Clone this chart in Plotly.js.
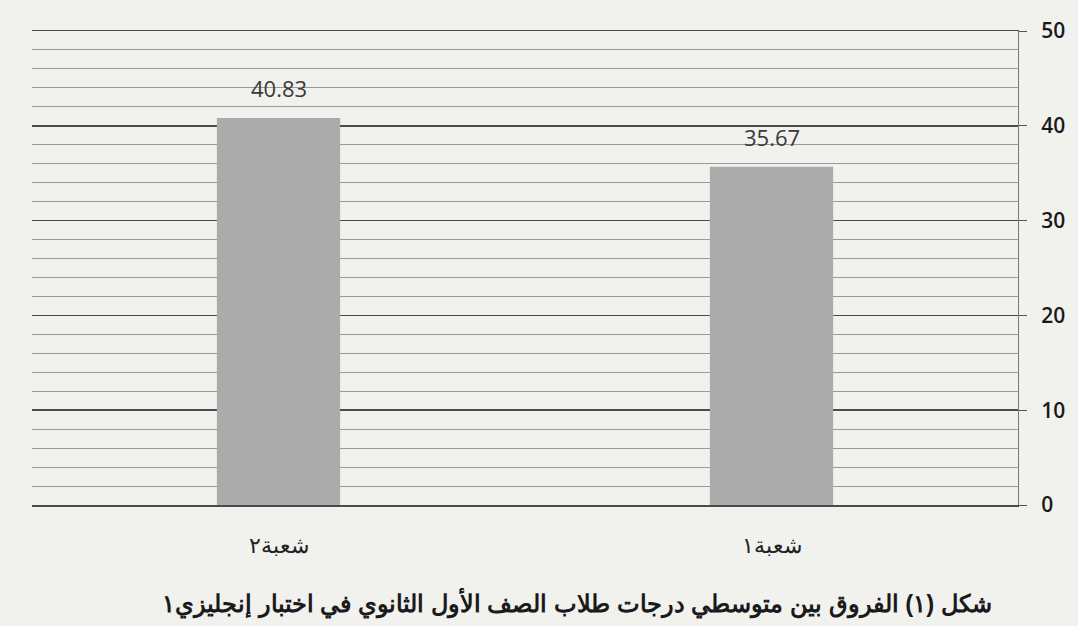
<!DOCTYPE html>
<html>
<head>
<meta charset="utf-8">
<script src="https://cdn.plot.ly/plotly-3.0.1.min.js"></script>
<style>html,body{margin:0;padding:0;background:#f1f1ee;}#chart{width:1078px;height:626px;}</style>
</head>
<body>
<div id="chart"></div>
<script>
const categories = ["شعبة١", "شعبة٢"];
const values = [35.67, 40.83];
const valueLabels = ["35.67", "40.83"];
const yTickVals = [0, 10, 20, 30, 40, 50];
const captionText = "شكل (١) الفروق بين متوسطي درجات طلاب الصف الأول الثانوي في اختبار إنجليزي١";

const trace = {
  type: "bar",
  x: categories,
  y: values,
  marker: {color: "#ababab", line: {width: 0}},
  hoverinfo: "none"
};

const annotations = categories.map((c, i) => ({
  x: c, y: values[i], xref: "x", yref: "y",
  text: valueLabels[i], showarrow: false,
  yanchor: "bottom", yshift: 13,
  font: {family: "Open Sans, Carlito, sans-serif", size: 22, color: "#3a3a3a"}
}));
annotations.push({
  x: 0.553, y: -0.207, xref: "paper", yref: "paper",
  text: "<b>" + captionText + "</b>", showarrow: false,
  xanchor: "center", yanchor: "middle",
  font: {family: "Liberation Sans, Arial, sans-serif", size: 24, color: "#1a1a1a"}
});

const layout = {
  width: 1078, height: 626,
  margin: {l: 32, r: 60, t: 31, b: 121},
  paper_bgcolor: "#f1f1ee",
  plot_bgcolor: "rgba(0,0,0,0)",
  bargap: 0.75,
  showlegend: false,
  xaxis: {
    type: "category",
    autorange: "reversed",
    showgrid: false, zeroline: false,
    showline: true, mirror: true, linecolor: "#4a4a4a", linewidth: 1.5,
    ticks: "", ticklabelstandoff: 20,
    tickfont: {family: "Liberation Sans, Arial, sans-serif", size: 22, color: "#222"}
  },
  yaxis: {
    side: "right",
    range: [0, 50],
    tickvals: yTickVals,
    ticks: "outside", ticklen: 8, tickcolor: "#555", tickwidth: 1,
    ticklabelstandoff: 10,
    showline: true, linecolor: "#777", linewidth: 1,
    showgrid: true, gridcolor: "#4a4a4a", gridwidth: 1.5,
    zeroline: false,
    tickfont: {family: "Open Sans, Carlito, sans-serif", size: 21, color: "#1a1a1a", weight: 600},
    minor: {dtick: 2, showgrid: true, gridcolor: "#9a9a9a", gridwidth: 1, ticks: ""}
  },
  annotations: annotations
};

Plotly.newPlot("chart", [trace], layout, {staticPlot: true, displayModeBar: false});
</script>
</body>
</html>
